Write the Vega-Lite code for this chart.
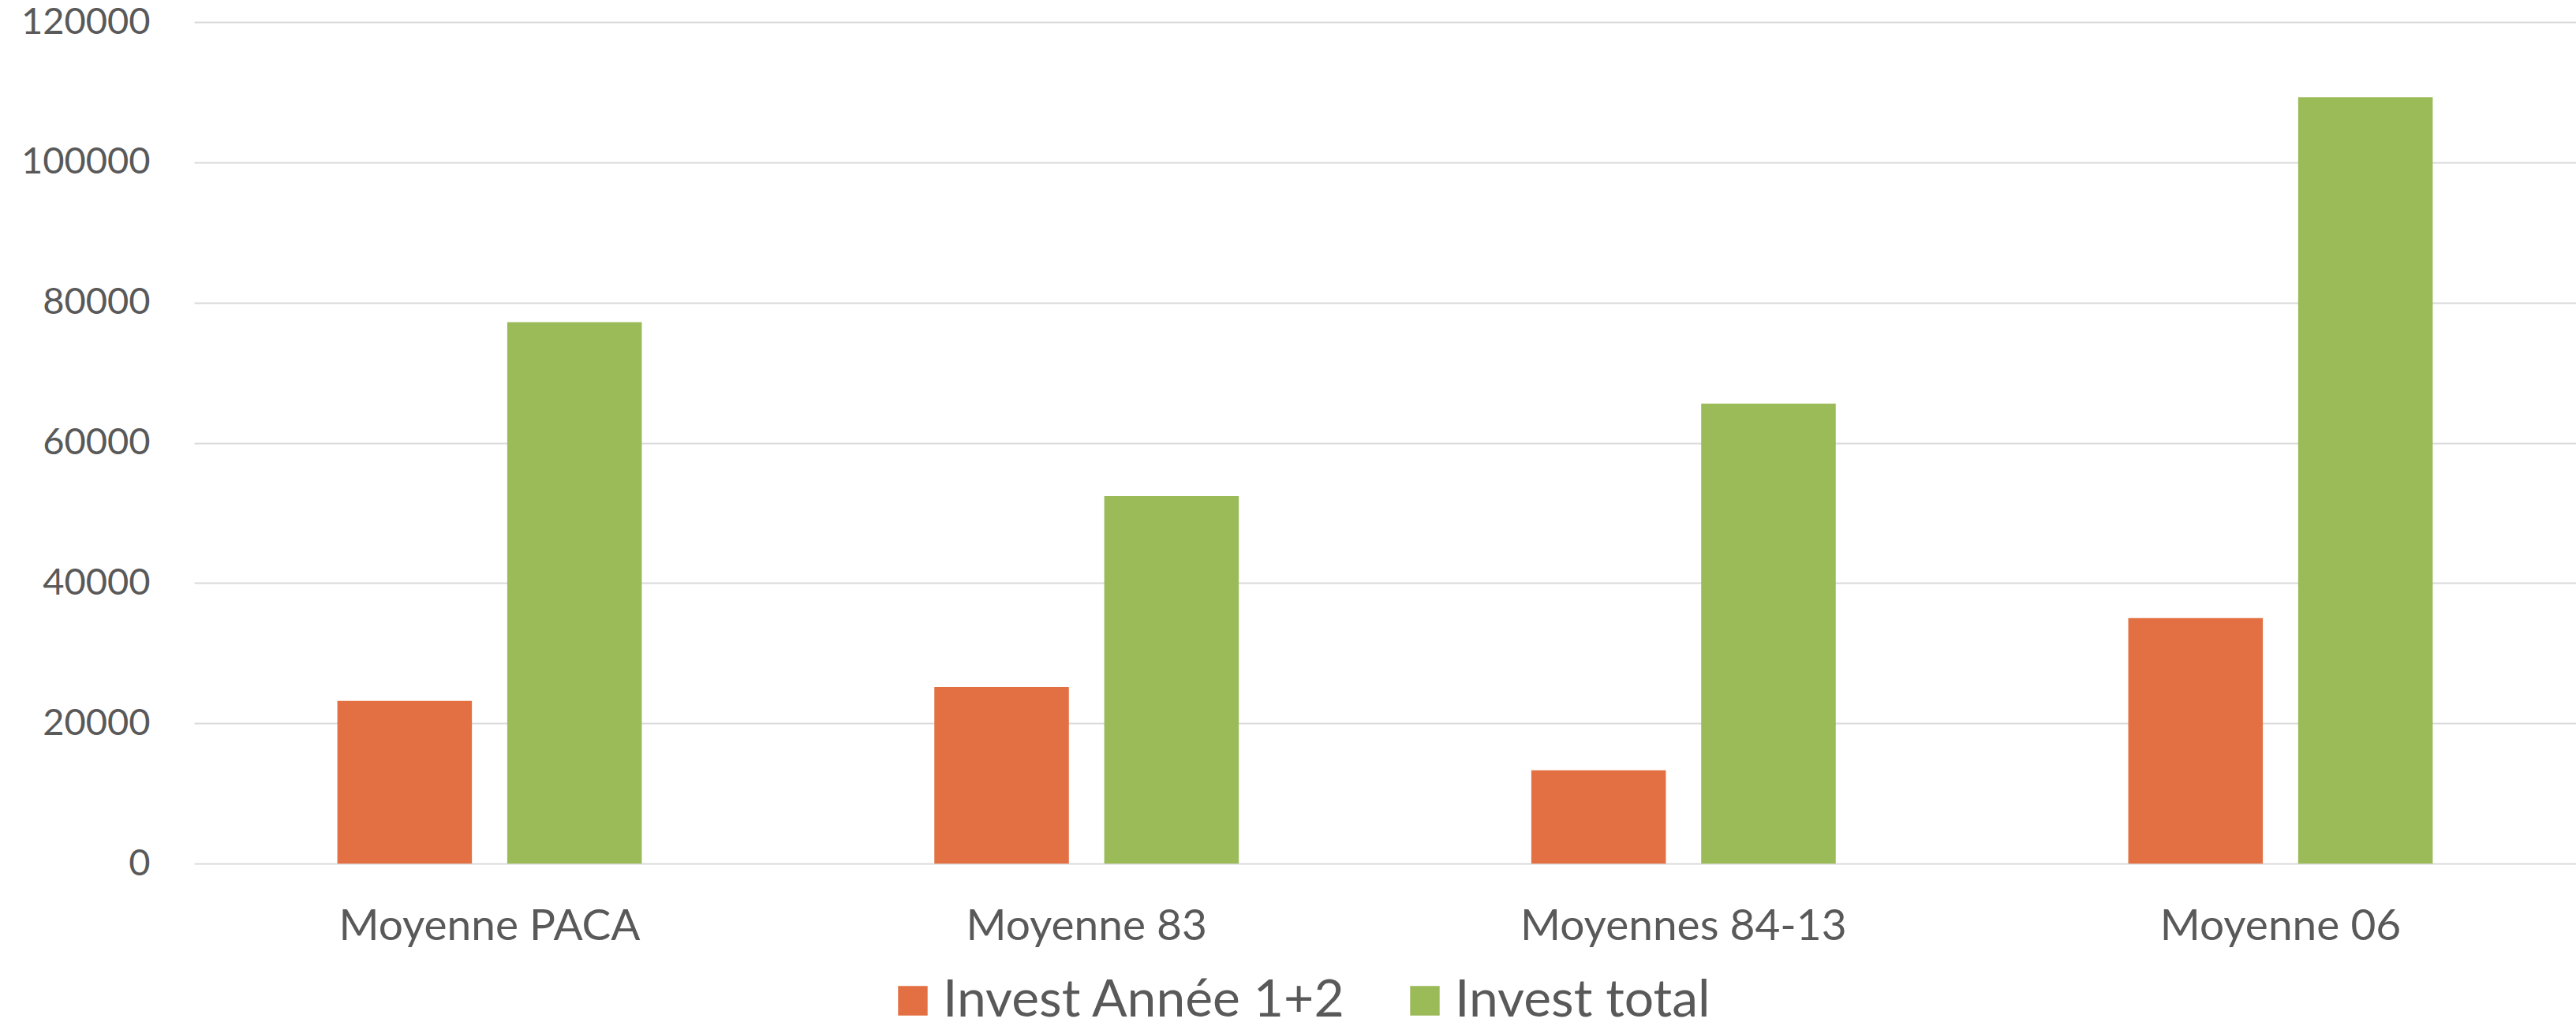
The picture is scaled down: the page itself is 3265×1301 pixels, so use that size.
{
  "$schema": "https://vega.github.io/schema/vega-lite/v6.json",
  "autosize": "none",
  "width": 3019,
  "height": 1067,
  "padding": {"left": 246, "top": 28, "right": 0, "bottom": 206},
  "background": "white",
  "data": {
    "values": [
      {"cat": "Moyenne PACA", "serie": "Invest Année 1+2", "valeur": 23200},
      {"cat": "Moyenne PACA", "serie": "Invest total", "valeur": 77200},
      {"cat": "Moyenne 83", "serie": "Invest Année 1+2", "valeur": 25200},
      {"cat": "Moyenne 83", "serie": "Invest total", "valeur": 52400},
      {"cat": "Moyennes 84-13", "serie": "Invest Année 1+2", "valeur": 13300},
      {"cat": "Moyennes 84-13", "serie": "Invest total", "valeur": 65600},
      {"cat": "Moyenne 06", "serie": "Invest Année 1+2", "valeur": 35000},
      {"cat": "Moyenne 06", "serie": "Invest total", "valeur": 109300}
    ]
  },
  "mark": {"type": "bar"},
  "encoding": {
    "x": {
      "field": "cat", "type": "nominal", "sort": null,
      "scale": {"paddingInner": 0.49, "paddingOuter": 0.24},
      "axis": {"title": null, "labelAngle": 0, "domain": false, "ticks": false, "tickSize": 0,
        "labelFont": "Lato", "labelFontSize": 55, "labelColor": "#595959",
        "labelPadding": 96, "labelBaseline": "alphabetic", "labelLimit": 1000, "grid": false}
    },
    "xOffset": {
      "field": "serie", "type": "nominal", "sort": null,
      "scale": {"paddingInner": 0.208, "paddingOuter": 0}
    },
    "y": {
      "field": "valeur", "type": "quantitative",
      "scale": {"domain": [0, 120000], "nice": false},
      "axis": {"title": null, "values": [0, 20000, 40000, 60000, 80000, 100000, 120000], "format": "d",
        "domain": false, "ticks": false, "tickSize": 0,
        "labelFont": "Lato", "labelFontSize": 47, "labelColor": "#595959", "labelPadding": 56,
        "gridColor": "#D9D9D9", "gridWidth": 2}
    },
    "color": {
      "field": "serie", "type": "nominal", "sort": null,
      "scale": {"domain": ["Invest Année 1+2", "Invest total"], "range": ["#E37043", "#9BBB59"]},
      "legend": {"title": null, "orient": "none", "legendX": 878, "legendY": 1208, "direction": "horizontal",
        "symbolType": "square", "symbolSize": 1400, "symbolStrokeWidth": 0, "symbolOpacity": 1,
        "labelFont": "Lato", "labelFontSize": 66, "labelColor": "#595959", "labelOffset": 5,
        "columnPadding": 67, "labelLimit": 1000, "padding": 0}
    }
  },
  "config": {"view": {"stroke": null}}
}
